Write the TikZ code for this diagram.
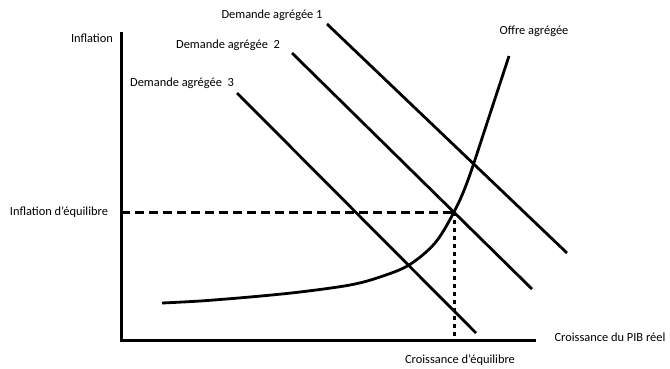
\documentclass[tikz,border=0pt]{standalone}
\usepackage{fontspec}
\setmainfont{Carlito}
\begin{document}
\begin{tikzpicture}[x=1pt,y=-1pt,
  lbl/.style={inner sep=0pt, font=\fontsize{12.4}{14}\selectfont},
  axis/.style={line width=3pt},
  curve/.style={line width=2.8pt},
  dashline/.style={line width=3pt, dash pattern=on 9pt off 5pt},
  dotline/.style={line width=3pt, dash pattern=on 4pt off 4pt}]
\useasboundingbox (0,0) rectangle (670,368);
% axes
\coordinate (O) at (121,340);
\coordinate (Ytop) at (121,32);
\coordinate (Xend) at (536,340);
\draw[axis] (Ytop) -- (O) -- (Xend);
% demand lines
\coordinate (d1a) at (327,24);  \coordinate (d1b) at (567,253);
\coordinate (d2a) at (292,53);  \coordinate (d2b) at (532,289);
\coordinate (d3a) at (237,93);  \coordinate (d3b) at (476,333);
\draw[curve] (d1a) -- (d1b);
\draw[curve] (d2a) -- (d2b);
\draw[curve] (d3a) -- (d3b);
% supply curve
\draw[curve] plot[smooth, tension=0.55] coordinates {(162,303) (200,301) (250,297) (300,292) (350,285) (380,277) (409,265) (435,243) (454,212) (468,180) (488,120) (509,56)};
% equilibrium
\coordinate (E) at (454,212);
\coordinate (Ey) at (121,212);
\coordinate (Ex) at (454,340);
\draw[dashline] (Ey) -- (E);
\draw[dotline] (E) -- (Ex);
% labels
\node[lbl] (inf) at (92,38) {Inflation};
\node[lbl] (da1) at (272,15) {Demande agrégée 1};
\node[lbl] (da2) at (228,45) {Demande agrégée\ \ 2};
\node[lbl] (da3) at (182,83) {Demande agrégée\ \ 3};
\node[lbl] (oa) at (534,31) {Offre agrégée};
\node[lbl] (ieq) at (59,212) {Inflation d'équilibre};
\node[lbl] (pib) at (610,337) {Croissance du PIB réel};
\node[lbl] (ceq) at (460,360) {Croissance d'équilibre};
\end{tikzpicture}
\end{document}
